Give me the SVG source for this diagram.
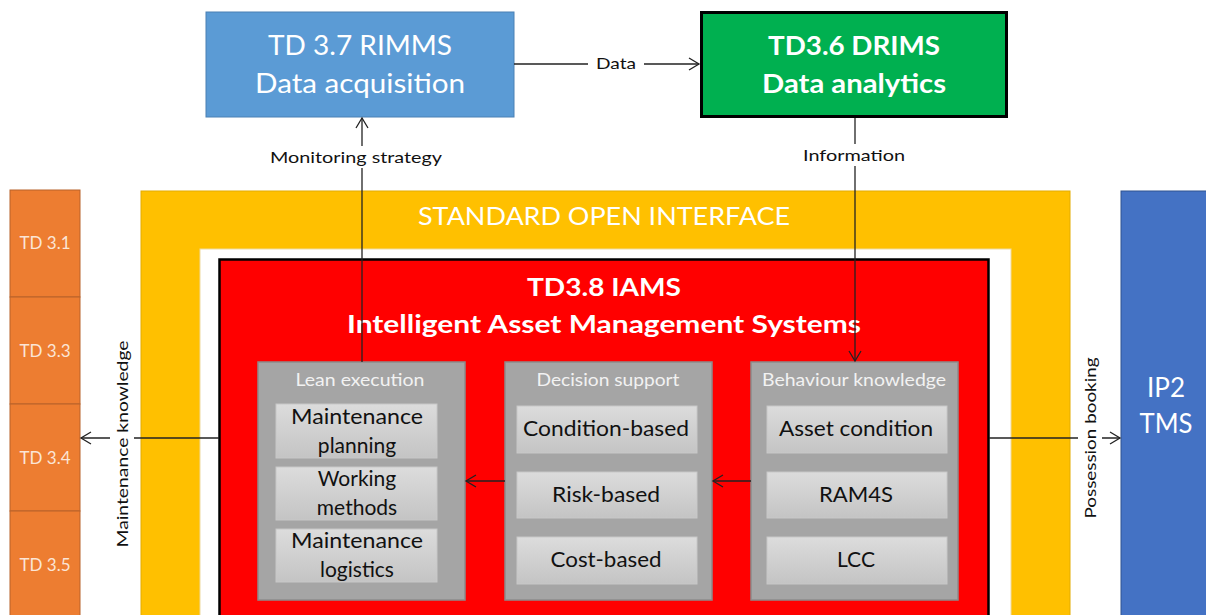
<svg xmlns="http://www.w3.org/2000/svg" width="1206" height="615" viewBox="0 0 1206 615">
<style>
text{font-family:Lato,"Liberation Sans",sans-serif}
.w{fill:#ffffff}
.top{font-size:26px;text-anchor:middle}
.b{font-weight:bold}
.td{font-size:17px;fill:#FBE5D6;text-anchor:middle}
.panel{fill:#A5A5A5;stroke:#8C8C8C;stroke-width:1.5}
.ptitle{font-size:17px;fill:#F2F2F2;text-anchor:middle}
.item{fill:url(#g);stroke:#C8C8C8;stroke-width:1}
.itxt{font-size:21px;fill:#111;text-anchor:middle}
.lbl{font-size:16px;fill:#111;text-anchor:middle}
.ln{stroke:#222;stroke-width:1.3;fill:none}
.orange{fill:#ED7D31;stroke:#B8622A;stroke-width:1}
</style>
<defs>
<linearGradient id="g" x1="0" y1="0" x2="0" y2="1">
<stop offset="0" stop-color="#DCDCDC"/>
<stop offset="1" stop-color="#C4C4C4"/>
</linearGradient>
<marker id="ah" markerUnits="userSpaceOnUse" markerWidth="14" markerHeight="16" refX="11" refY="7" orient="auto">
<path d="M1,1 L11,7 L1,13" fill="none" stroke="#222" stroke-width="1.3"/>
</marker>
</defs>

<g id="orange-column">
<g id="td31"><rect class="orange" x="10" y="190" width="70" height="107"/><text class="td" x="45" y="249">TD 3.1</text></g>
<g id="td33"><rect class="orange" x="10" y="297" width="70" height="107"/><text class="td" x="45" y="357">TD 3.3</text></g>
<g id="td34"><rect class="orange" x="10" y="404" width="70" height="107"/><text class="td" x="45" y="464">TD 3.4</text></g>
<g id="td35"><rect class="orange" x="10" y="511" width="70" height="110"/><text class="td" x="45" y="571">TD 3.5</text></g>
</g>

<g id="standard-open-interface">
<rect x="141" y="191" width="929" height="430" fill="#FFC000" stroke="#E3AC00" stroke-width="1"/>
<text class="w" x="604" y="225" font-size="25" text-anchor="middle" textLength="372" lengthAdjust="spacingAndGlyphs">STANDARD OPEN INTERFACE</text>
</g>

<g id="white-frame">
<rect x="200" y="249" width="811" height="372" fill="#ffffff" stroke="#EED9A0" stroke-width="1"/>
</g>

<g id="iams">
<rect x="219.5" y="259.5" width="769" height="362" fill="#FF0000" stroke="#000" stroke-width="2.5"/>
<text class="w b" x="604" y="296" font-size="25" text-anchor="middle" textLength="154" lengthAdjust="spacingAndGlyphs">TD3.8 IAMS</text>
<text class="w b" x="604" y="333" font-size="25" text-anchor="middle" textLength="514" lengthAdjust="spacingAndGlyphs">Intelligent Asset Management Systems</text>
</g>

<g id="lean-execution">
<rect class="panel" x="258" y="362" width="207" height="238"/>
<text class="ptitle" x="360" y="386" textLength="129" lengthAdjust="spacingAndGlyphs">Lean execution</text>
<rect class="item" x="276" y="404" width="161" height="54"/>
<text class="itxt" x="357" y="424" textLength="132" lengthAdjust="spacingAndGlyphs">Maintenance</text>
<text class="itxt" x="357" y="453">planning</text>
<rect class="item" x="276" y="467" width="161" height="53"/>
<text class="itxt" x="357" y="486">Working</text>
<text class="itxt" x="357" y="515">methods</text>
<rect class="item" x="276" y="529" width="161" height="53"/>
<text class="itxt" x="357" y="548" textLength="132" lengthAdjust="spacingAndGlyphs">Maintenance</text>
<text class="itxt" x="357" y="577">logistics</text>
</g>

<g id="decision-support">
<rect class="panel" x="505" y="362" width="207" height="238"/>
<text class="ptitle" x="608" y="386" textLength="143" lengthAdjust="spacingAndGlyphs">Decision support</text>
<rect class="item" x="517" y="406" width="180" height="47"/>
<text class="itxt" x="606" y="436" textLength="166" lengthAdjust="spacingAndGlyphs">Condition-based</text>
<rect class="item" x="517" y="472" width="180" height="46"/>
<text class="itxt" x="606" y="502" textLength="108" lengthAdjust="spacingAndGlyphs">Risk-based</text>
<rect class="item" x="517" y="537" width="180" height="47"/>
<text class="itxt" x="606" y="567" textLength="111" lengthAdjust="spacingAndGlyphs">Cost-based</text>
</g>

<g id="behaviour-knowledge">
<rect class="panel" x="751" y="362" width="207" height="238"/>
<text class="ptitle" x="854" y="386" textLength="184" lengthAdjust="spacingAndGlyphs">Behaviour knowledge</text>
<rect class="item" x="767" y="406" width="180" height="47"/>
<text class="itxt" x="856" y="436" textLength="154" lengthAdjust="spacingAndGlyphs">Asset condition</text>
<rect class="item" x="767" y="472" width="180" height="46"/>
<text class="itxt" x="856" y="502" textLength="74" lengthAdjust="spacingAndGlyphs">RAM4S</text>
<rect class="item" x="767" y="537" width="180" height="47"/>
<text class="itxt" x="856" y="567" textLength="38" lengthAdjust="spacingAndGlyphs">LCC</text>
</g>

<g id="rimms">
<rect x="206" y="12" width="308" height="105" fill="#5B9BD5" stroke="#4A80B4" stroke-width="1"/>
<text class="w top" x="360" y="55" textLength="184" lengthAdjust="spacingAndGlyphs">TD 3.7 RIMMS</text>
<text class="w top" x="360" y="93" textLength="210" lengthAdjust="spacingAndGlyphs">Data acquisition</text>
</g>

<g id="drims">
<rect x="701.5" y="12.5" width="305" height="104" fill="#00B050" stroke="#000" stroke-width="3"/>
<text class="w top b" x="854" y="55" textLength="172" lengthAdjust="spacingAndGlyphs">TD3.6 DRIMS</text>
<text class="w top b" x="854" y="93" textLength="184" lengthAdjust="spacingAndGlyphs">Data analytics</text>
</g>

<g id="ip2-tms">
<rect x="1121" y="191" width="90" height="430" fill="#4472C4" stroke="#2F528F" stroke-width="1"/>
<text class="w top" x="1166" y="397">IP2</text>
<text class="w top" x="1166" y="433" textLength="53" lengthAdjust="spacingAndGlyphs">TMS</text>
</g>

<g id="connectors">
<line class="ln" x1="514" y1="64" x2="699" y2="64" marker-end="url(#ah)"/>
<rect x="588" y="54" width="56" height="20" fill="#fff"/>
<text class="lbl" x="616" y="69" textLength="40" lengthAdjust="spacingAndGlyphs">Data</text>

<line class="ln" x1="362" y1="362" x2="362" y2="118" marker-end="url(#ah)"/>
<rect x="266" y="146" width="180" height="22" fill="#fff"/>
<text class="lbl" x="356" y="163" textLength="172" lengthAdjust="spacingAndGlyphs">Monitoring strategy</text>

<line class="ln" x1="855" y1="118" x2="855" y2="361" marker-end="url(#ah)"/>
<rect x="798" y="144" width="112" height="22" fill="#fff"/>
<text class="lbl" x="854" y="161" textLength="102" lengthAdjust="spacingAndGlyphs">Information</text>

<line class="ln" x1="751" y1="481" x2="713" y2="481" marker-end="url(#ah)"/>
<line class="ln" x1="505" y1="481" x2="466" y2="481" marker-end="url(#ah)"/>

<line class="ln" x1="219" y1="438" x2="81" y2="438" marker-end="url(#ah)"/>
<rect x="110" y="335" width="24" height="218" fill="#fff"/>
<text class="lbl" transform="translate(128,444) rotate(-90)" textLength="207" lengthAdjust="spacingAndGlyphs">Maintenance knowledge</text>

<line class="ln" x1="989" y1="438" x2="1120" y2="438" marker-end="url(#ah)"/>
<rect x="1078" y="352" width="24" height="172" fill="#fff"/>
<text class="lbl" transform="translate(1096,438) rotate(-90)" textLength="161" lengthAdjust="spacingAndGlyphs">Possession booking</text>
</g>
</svg>
